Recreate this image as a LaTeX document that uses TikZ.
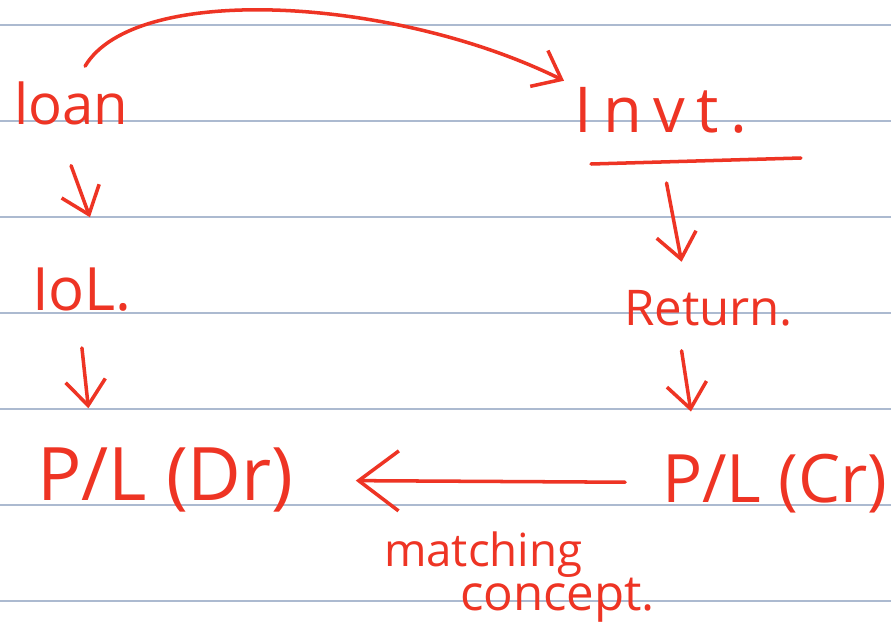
\documentclass[tikz,border=0pt]{standalone}
\usepackage{fontspec}
\setmainfont{Open Sans}
\usetikzlibrary{arrows.meta,positioning}
\definecolor{inkred}{RGB}{238,52,36}
\definecolor{rulegray}{RGB}{172,186,208}

\begin{document}
\begin{tikzpicture}[x=0.02cm,y=-0.02cm,
  note/.style={text=inkred, inner sep=1pt, anchor=base west, font=\fontsize{32}{36}\selectfont},
  bignote/.style={note, font=\fontsize{42}{48}\selectfont},
  ink/.style={inkred, line width=2pt, line cap=round, line join=round},
  arr/.style={ink, -{Straight Barb[length=5mm,width=8mm]}},
  longarr/.style={ink, -{Straight Barb[length=8mm,width=12mm]}},
  rule/.style={rulegray, line width=0.8pt}
]
  % ruled page
  \useasboundingbox (0,0) rectangle (891,629);
  \fill[white] (0,0) rectangle (891,629);
  \foreach \y in {25,121,217,313,409,505,601}
    \draw[rule] (0,\y) -- (891,\y);

  % left column
  \node[note] (loan) at (12,124) {loan};
  \node[note, font=\fontsize{34}{38}\selectfont] (iol) at (30,310) {IoL.};
  \node[bignote] (pldr) at (35,500) {P/L (Dr)};

  % right column
  \node[note, font=\fontsize{36}{40}\selectfont\addfontfeature{LetterSpace=18}] (invt) at (572,132) {Invt.};
  \node[note, font=\fontsize{28}{32}\selectfont] (ret) at (622,325) {Return.};
  \node[bignote, font=\fontsize{38}{44}\selectfont] (plcr) at (660,502) {P/L (Cr)};

  % label under the long arrow
  \node[note, font=\fontsize{26}{30}\selectfont] (match) at (382,566) {matching};
  \node[note, font=\fontsize{28}{32}\selectfont] (concept) at (458,610) {concept.};

  \draw[ink] ([shift={(0.38cm,-0.58cm)}]invt.south west) -- ([shift={(4.58cm,-0.46cm)}]invt.south west);

  \draw[arr] ([xshift=0.28cm,yshift=0.26cm]loan.north) .. controls +(50,-84) and +(-170,-84) .. ([xshift=-0.16cm,yshift=0.08cm]invt.north west);
  \draw[arr] ([yshift=-0.78cm]loan.south) -- ([shift={(0.16cm,0.96cm)}]iol.north);
  \draw[arr] ([yshift=-0.7cm]iol.south) -- ([shift={(-1.54cm,0.74cm)}]pldr.north);
  \draw[arr] ([shift={(0.12cm,-0.96cm)}]invt.south) -- ([shift={(-0.54cm,0.52cm)}]ret.north);
  \draw[arr] ([shift={(-0.54cm,-0.46cm)}]ret.south) -- ([shift={(-1.68cm,0.8cm)}]plcr.north);
  \draw[longarr, shorten <=0.7cm, shorten >=1.2cm] (plcr) -- (pldr);
\end{tikzpicture}
\end{document}
